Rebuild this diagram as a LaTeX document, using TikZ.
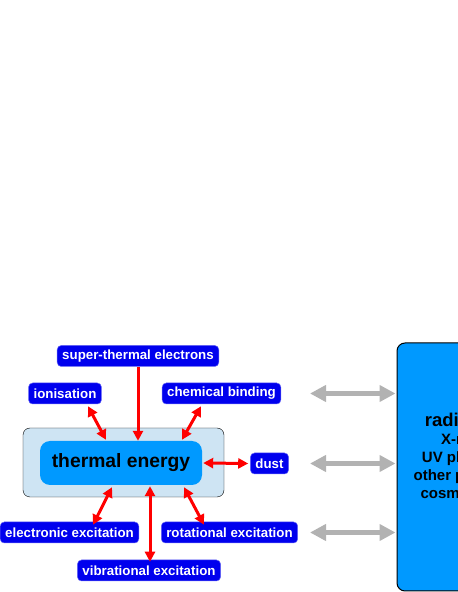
\documentclass[tikz,border=0pt]{standalone}
\usepackage{fontspec}
\setmainfont{Liberation Sans}
\usetikzlibrary{arrows.meta,calc}
\definecolor{labelblue}{RGB}{0,0,238}
\definecolor{thermblue}{RGB}{0,153,255}
\definecolor{paleblue}{RGB}{206,228,243}
\definecolor{exchgrey}{RGB}{178,178,178}
\tikzset{
  process/.style={draw=labelblue!60!white, line width=0.5pt, fill=labelblue, text=white,
    rounded corners=4pt, font=\bfseries\fontsize{13.3}{14}\selectfont,
    inner xsep=5pt, inner ysep=0pt, minimum height=21pt},
  heat/.style={draw=red, line width=3pt, >={Triangle[length=10pt,width=10pt]}},
  exchange/.style={draw=exchgrey, line width=5pt, >={Triangle[length=16pt,width=16pt]}},
}

\begin{document}
\begin{tikzpicture}[x=1pt,y=1pt]
  \useasboundingbox (0,0) rectangle (458,592);
  \clip (0,0) rectangle (458,592);

  % gas phase
  \node [draw, fill=paleblue, rounded corners=7pt, minimum width=201pt, minimum height=69pt] (gas) at (123.5,129.5) {};
  \node [fill=thermblue, rounded corners=10pt, minimum width=162pt, minimum height=44pt,
    font=\bfseries\fontsize{19.3}{22}\selectfont] (thermal) at (121,129) {thermal energy};

  \node [process] (electrons) at (138,236) {super-thermal electrons};
  \node [process] (ion) at (65,198.5) {ionisation};
  \node [process] (bind) at (221.5,198.5) {chemical binding};
  \node [process] (dust) at (269.5,128.5) {dust};
  \node [process] (elec) at (69.5,59.5) {electronic excitation};
  \node [process] (rot) at (229.5,59.5) {rotational excitation};
  \node [process] (vib) at (149,21.5) {vibrational excitation};

  % radiation field
  \node [draw, line width=1pt, fill=thermblue, rounded corners=8pt, minimum width=134pt, minimum height=248pt] (rad) at (464,125) {};
  \node [align=center, font=\bfseries\fontsize{15}{18}\selectfont] (radtext) at (464,135)
    {{\fontsize{18.5}{18}\selectfont radiation}\\X-rays\\UV photons\\other photons\\cosmic rays};

  \draw [heat, ->] (electrons.south) -- (electrons.south |- thermal.north);
  \draw [heat, <->] ([xshift=23pt,yshift=-2pt]ion.south) -- ([xshift=-15pt,yshift=1pt]thermal.north);
  \draw [heat, <->] ([xshift=-20.5pt,yshift=-2pt]bind.south) -- ([xshift=61pt,yshift=1pt]thermal.north);
  \draw [heat, <->] ([xshift=1pt]thermal.east) -- ([xshift=-2pt]dust.west);
  \draw [heat, <->] ([xshift=-9pt,yshift=-2pt]thermal.south) -- ([xshift=23.5pt,yshift=-3pt]elec.north);
  \draw [heat, <->] ([xshift=63pt,yshift=-2pt]thermal.south) -- ([xshift=-25.5pt,yshift=-3pt]rot.north);
  \draw [heat, <->] ([xshift=29pt,yshift=-1pt]thermal.south) -- ([xshift=1pt,yshift=-2pt]vib.north);

  \coordinate (gap) at (310,0);
  \draw [exchange, <->] (gap |- bind) -- ([xshift=-1pt]rad.west |- bind);
  \draw [exchange, <->] (gap |- dust) -- ([xshift=-1pt]rad.west |- dust);
  \draw [exchange, <->] (gap |- rot) -- ([xshift=-1pt]rad.west |- rot);
\end{tikzpicture}
\end{document}
